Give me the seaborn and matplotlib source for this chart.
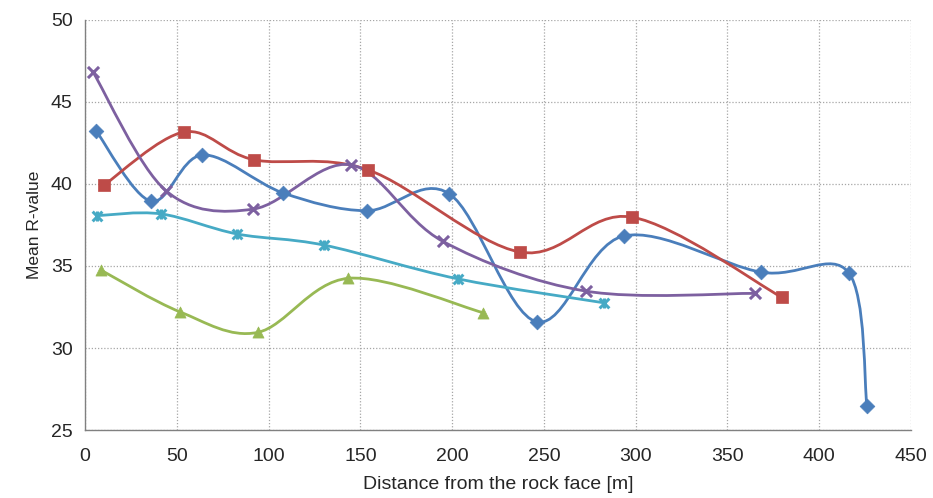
import numpy as np
import pandas as pd
import matplotlib
matplotlib.use("Agg")
import matplotlib.pyplot as plt
from matplotlib.path import Path
from matplotlib.patches import PathPatch
import seaborn as sns

# Measurement series: distance from the rock face [m] and mean R-value
blue_x = [6, 36, 64, 108, 153.5, 198.5, 246, 293.5, 368.5, 416, 426]
blue_y = [43.25, 38.95, 41.77, 39.45, 38.37, 39.4, 31.6, 36.83, 34.62, 34.6, 26.45]

red_x = [10.5, 54, 92, 154, 237, 298, 379.5]
red_y = [39.95, 43.17, 41.48, 40.87, 35.85, 37.98, 33.1]

purple_x = [4.5, 44, 91.7, 144.7, 195, 272.8, 364.8]
purple_y = [46.8, 39.6, 38.47, 41.17, 36.5, 33.47, 33.33]

cyan_x = [6.7, 41.2, 83, 130.4, 203, 283]
cyan_y = [38.07, 38.18, 36.95, 36.27, 34.22, 32.75]

green_x = [8.7, 51.8, 94, 143.5, 217]
green_y = [34.75, 32.2, 30.95, 34.25, 32.15]

x_ticks = [0, 50, 100, 150, 200, 250, 300, 350, 400, 450]
y_ticks = [25, 30, 35, 40, 45, 50]

BLUE = "#4A7EBB"
RED = "#BE4B48"
PURPLE = "#7D60A0"
CYAN = "#46AAC5"
GREEN = "#98B954"

sns.set_style("white")
plt.rcParams["font.family"] = ["Liberation Sans", "DejaVu Sans"]

fig = plt.figure(figsize=(9.33, 4.98), dpi=100)
ax = fig.add_axes([85 / 933, 68 / 498, 826 / 933, 410 / 498])


def smooth_path(xs, ys):
    """Bezier path through the points, with Catmull-Rom style control points."""
    p = np.column_stack([xs, ys]).astype(float)
    n = len(p)
    verts = [p[0]]
    codes = [Path.MOVETO]
    for i in range(n - 1):
        p_prev = p[i - 1] if i > 0 else p[i]
        p_next2 = p[i + 2] if i + 2 < n else p[i + 1]
        c1 = p[i] + (p[i + 1] - p_prev) / 6.0
        c2 = p[i + 1] - (p_next2 - p[i]) / 6.0
        verts += [c1, c2, p[i + 1]]
        codes += [Path.CURVE4] * 3
    return Path(verts, codes)


series = [
    (blue_x, blue_y, BLUE, "D", 7.5),
    (red_x, red_y, RED, "s", 8.5),
    (purple_x, purple_y, PURPLE, "x", 8),
    (cyan_x, cyan_y, CYAN, "x", 7),
    (green_x, green_y, GREEN, "^", 8),
]

for xs, ys, col, mk, ms in series:
    ax.add_patch(PathPatch(smooth_path(xs, ys), facecolor="none",
                           edgecolor=col, lw=2.0, capstyle="round",
                           joinstyle="round", zorder=3))

for xs, ys, col, mk, ms in series:
    df = pd.DataFrame({"dist": xs, "r": ys})
    if mk == "x":
        sns.scatterplot(data=df, x="dist", y="r", ax=ax, marker="x",
                        s=ms ** 2, color=col, linewidth=2.2, zorder=4)
        if col == CYAN:
            sns.scatterplot(data=df, x="dist", y="r", ax=ax, marker="|",
                            s=ms ** 2, color=col, linewidth=2.2, zorder=4)
    else:
        sns.scatterplot(data=df, x="dist", y="r", ax=ax, marker=mk,
                        s=ms ** 2, color=col, edgecolor=col, linewidth=0.5,
                        zorder=4)

ax.set_xlim(0, 450)
ax.set_ylim(25, 50)
ax.set_xticks(x_ticks)
ax.set_yticks(y_ticks)
ax.grid(True, color="#A6A6A6", linestyle=(0, (1, 1.5)), linewidth=0.9)
ax.set_axisbelow(True)

for side in ["top", "right"]:
    ax.spines[side].set_visible(False)
for side in ["left", "bottom"]:
    ax.spines[side].set_color("#808080")
    ax.spines[side].set_linewidth(1.0)

ax.tick_params(axis="both", direction="out", length=5, width=1.0,
               color="#808080", labelsize=14, labelcolor="#262626")
ax.tick_params(axis="x", pad=8)
ax.tick_params(axis="y", pad=4)

ax.set_xlabel("Distance from the rock face [m]", fontsize=14,
              color="#262626", labelpad=8)
ax.set_ylabel("Mean R-value", fontsize=12.5, color="#262626", labelpad=6)

fig.savefig("out.png", dpi=100, facecolor="white")
